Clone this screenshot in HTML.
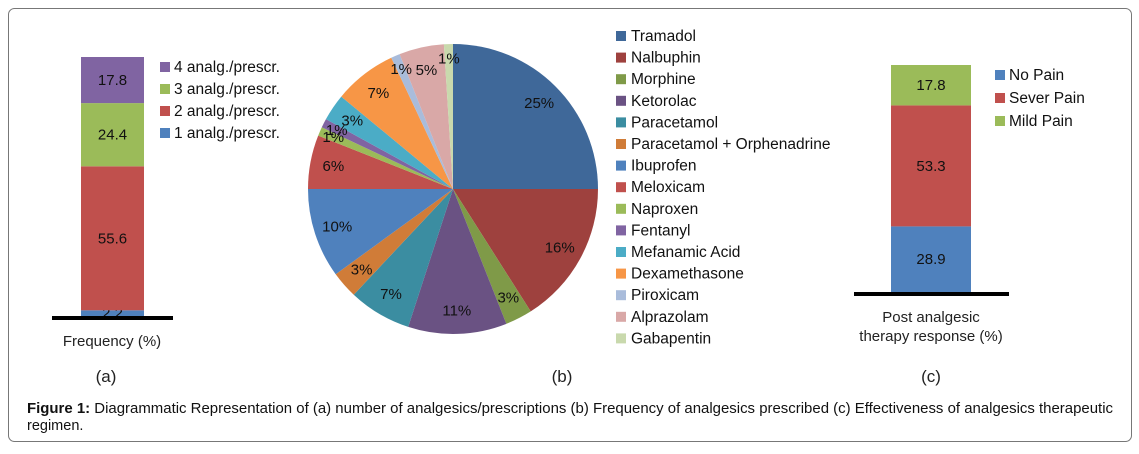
<!DOCTYPE html>
<html><head><meta charset="utf-8">
<style>
body{margin:0;background:#fff;}
svg text{font-family:"Liberation Sans",sans-serif;}
</style></head>
<body>
<svg id="fig" width="1139" height="449" xmlns="http://www.w3.org/2000/svg">
<rect x="8.5" y="8.5" width="1123" height="433" rx="6" fill="#fff" stroke="#777" stroke-width="1"/>
<g id="left"></g><g id="pie"></g><g id="right"></g>
<text x="112" y="346" font-size="15" text-anchor="middle" fill="#222">Frequency (%)</text>
<text x="106" y="382" font-size="17" text-anchor="middle" fill="#222">(a)</text>
<text x="562" y="382" font-size="17" text-anchor="middle" fill="#222">(b)</text>
<text x="931" y="322" font-size="15" text-anchor="middle" fill="#222">Post analgesic</text>
<text x="931" y="341" font-size="15" text-anchor="middle" fill="#222">therapy response (%)</text>
<text x="931" y="382" font-size="17" text-anchor="middle" fill="#222">(c)</text>
<text x="27" y="413" font-size="14.5" fill="#111" textLength="1086" lengthAdjust="spacingAndGlyphs"><tspan font-weight="bold">Figure 1:</tspan> Diagrammatic Representation of (a) number of analgesics/prescriptions (b) Frequency of analgesics prescribed (c) Effectiveness of analgesics therapeutic</text>
<text x="27" y="430" font-size="14.5" fill="#111">regimen.</text>
</svg>
<script>
const NS="http://www.w3.org/2000/svg";
const leftCats=["1 analg./prescr.","2 analg./prescr.","3 analg./prescr.","4 analg./prescr."];
const leftVals=[2.2,55.6,24.4,17.8];
const leftColors=["#4F81BD","#C0504D","#9BBB59","#8064A2"];
const pieCats=["Tramadol","Nalbuphin","Morphine","Ketorolac","Paracetamol","Paracetamol + Orphenadrine","Ibuprofen","Meloxicam","Naproxen","Fentanyl","Mefanamic Acid","Dexamethasone","Piroxicam","Alprazolam","Gabapentin"];
const pieVals=[25,16,3,11,7,3,10,6,1,1,3,7,1,5,1];
const pieColors=["#3F6899","#9E413E","#7F9A48","#6A5283","#3B8DA1","#D07C38","#4F81BD","#C0504D","#9BBB59","#8064A2","#4BACC6","#F79646","#A9BCDB","#D9A8A7","#C9D9AD"];
const rightCats=["No Pain","Sever Pain","Mild Pain"];
const rightVals=[28.9,53.3,17.8];
const rightColors=["#4F81BD","#C0504D","#9BBB59"];

function el(tag,attrs,parent,txt){const e=document.createElementNS(NS,tag);for(const k in attrs)e.setAttribute(k,attrs[k]);if(txt!==undefined)e.textContent=txt;parent.appendChild(e);return e;}

function stacked(g,vals,cats,colors,x,w,bottom,top,axX1,axX2,legX,legY,legStep,legOrder,prefix){
  const total=vals.reduce((a,b)=>a+b,0);
  const y=v=>bottom-(v/total)*(bottom-top);
  let cum=0;
  vals.forEach((v,i)=>{
    const y1=y(cum+v),y0=y(cum);
    const r=el("rect",{x:x,y:y1,width:w,height:y0-y1,fill:colors[i]},g);
    
    
    const t=el("text",{x:x+w/2,y:(y0+y1)/2+5,"font-size":15,"text-anchor":"middle",fill:"#111"},g,v.toFixed(1));
    
    
    cum+=v;
  });
  const ax=el("rect",{x:axX1,y:bottom,width:axX2-axX1,height:4,fill:"#000"},g);
  
  
  legOrder.forEach((i,k)=>{
    const yy=legY+k*legStep;
    const s=el("rect",{x:legX,y:yy-5,width:10,height:10,fill:colors[i]},g);
    
    
    const t=el("text",{x:legX+14,y:yy+5,"font-size":15.5,fill:"#111"},g,cats[i]);
    
    
  });
}
stacked(document.getElementById("left"),leftVals,leftCats,leftColors,81,63,316,57,52,173,160,67,22,[3,2,1,0],"frequency");
stacked(document.getElementById("right"),rightVals,rightCats,rightColors,891,80,292,65,854,1009,995,75,23,[0,1,2],"response");

const pg=document.getElementById("pie");
const cx=453,cy=189,R=145;
const ptotal=pieVals.reduce((a,b)=>a+b,0);
let acc=0;
pieVals.forEach((v,i)=>{
  const a0=acc/ptotal*2*Math.PI,a1=(acc+v)/ptotal*2*Math.PI;
  const p=(a)=>[cx+R*Math.sin(a),cy-R*Math.cos(a)];
  const [x0,y0]=p(a0),[x1,y1]=p(a1);
  const large=(a1-a0)>Math.PI?1:0;
  const s=el("path",{d:`M${cx},${cy}L${x0},${y0}A${R},${R} 0 ${large} 1 ${x1},${y1}Z`,fill:pieColors[i]},pg);
  
  
  acc+=v;
});
acc=0;
pieVals.forEach((v,i)=>{
  const a0=acc/ptotal*2*Math.PI,a1=(acc+v)/ptotal*2*Math.PI;
  const am=(a0+a1)/2,lr=v<=1?R*0.9:R*0.84;
  const t=el("text",{x:cx+lr*Math.sin(am),y:cy-lr*Math.cos(am)+5,"font-size":15,"text-anchor":"middle",fill:"#111"},pg,v+"%");
  
  
  acc+=v;
});
pieCats.forEach((c,i)=>{
  const yy=36+i*21.6;
  const s=el("rect",{x:616,y:yy-5,width:10,height:10,fill:pieColors[i]},pg);
  
  
  const t=el("text",{x:631,y:yy+5,"font-size":15.5,fill:"#111"},pg,c);
  
  
});
</script>
</body></html>
